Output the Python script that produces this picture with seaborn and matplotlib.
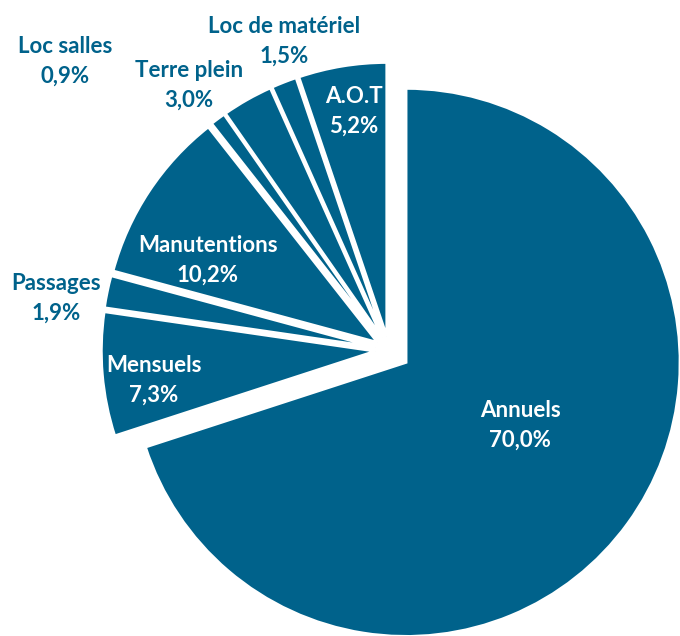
import matplotlib
matplotlib.use('Agg')
import matplotlib.pyplot as plt
import seaborn as sns

# data (clockwise from 12 o'clock)
categories = ['Annuels', 'Mensuels', 'Passages', 'Manutentions',
              'Loc salles', 'Terre plein', 'Loc de matériel', 'A.O.T']
shares = [70.0, 7.3, 1.9, 10.2, 0.9, 3.0, 1.5, 5.2]
label_inside = [True, True, False, True, False, False, False, True]

sns.set_theme(style='white')
plt.rcParams['font.family'] = ['Lato', 'DejaVu Sans']

blue = '#00628B'
W, H = 680, 636
cx, cy, r = 389, 350, 274  # pie centre / radius in pixels

# label anchor (x centre, baseline of name) in pixels
label_pos = [(520, 417), (154, 372), (56, 290), (208, 252),
             (65, 53), (189, 77), (284, 33), (354, 103)]
line_gap = 30

fig = plt.figure(figsize=(W / 100, H / 100), dpi=100)
ax = fig.add_axes([0, 0, 1, 1])

explode = [0.077] + [0.05] * (len(shares) - 1)
wedges, _ = ax.pie(shares, startangle=90, counterclock=False, explode=explode,
                   colors=sns.color_palette([blue] * len(shares)),
                   wedgeprops=dict(edgecolor='white', linewidth=2))

ax.set_xlim(-cx / r, (W - cx) / r)
ax.set_ylim(-(H - cy) / r, cy / r)
ax.set_aspect('auto')
ax.axis('off')


def to_data(px, py):
    return (px - cx) / r, (cy - py) / r


for name, val, inside, (px, py) in zip(categories, shares, label_inside, label_pos):
    col = 'white' if inside else blue
    pct = f'{val:.1f}%'.replace('.', ',')
    x, y = to_data(px, py)
    ax.text(x, y, name, ha='center', va='baseline', color=col,
            fontsize=16, fontweight='bold')
    x, y = to_data(px, py + line_gap)
    ax.text(x, y, pct, ha='center', va='baseline', color=col,
            fontsize=16, fontweight='bold')

fig.savefig('out.png', dpi=100, facecolor='white')
